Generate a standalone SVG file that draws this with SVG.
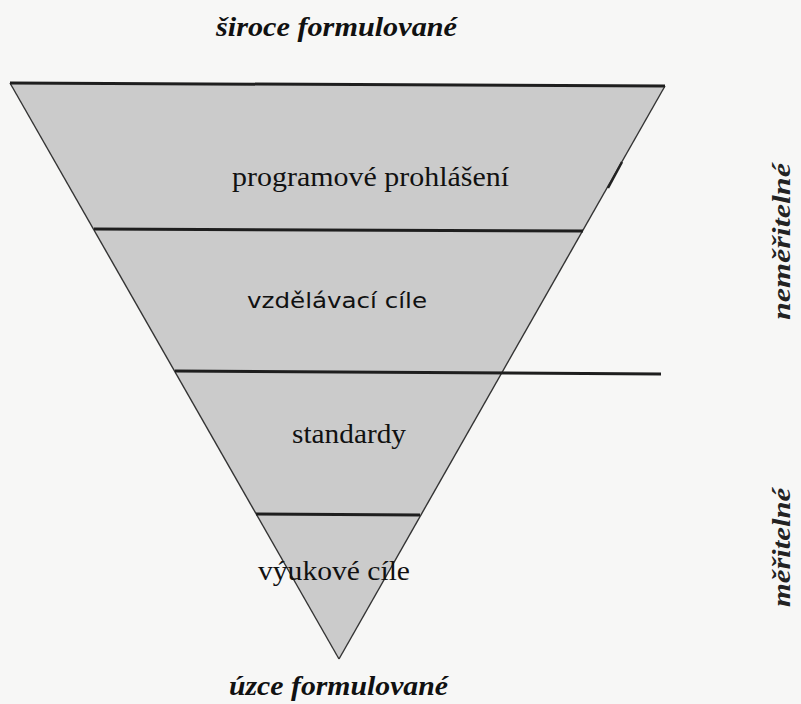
<svg xmlns="http://www.w3.org/2000/svg" width="801" height="704" viewBox="0 0 801 704">
  <style>
    .edge { stroke: #333; stroke-width: 1.4; fill: none; }
    .div { stroke: #1e1e1e; stroke-width: 3; fill: none; }
    .lbl { font-family: 'Liberation Serif', 'Times New Roman', Times, 'DejaVu Serif', serif; font-size: 27px; fill: #111; }
    .lbls { font-family: 'DejaVu Sans', 'Liberation Sans', sans-serif; font-size: 21px; fill: #111; }
    .ttl { font-family: 'Liberation Serif', 'Times New Roman', Times, 'DejaVu Serif', serif; font-size: 28px; font-weight: bold; font-style: italic; fill: #111; }
    .side { font-family: 'Liberation Serif', 'Times New Roman', Times, 'DejaVu Serif', serif; font-size: 25px; font-weight: bold; font-style: italic; fill: #222; }
  </style>
  <rect width="801" height="704" fill="#f7f7f6"/>
  <g id="funnel">
    <polygon points="10,83 665,86 339,659" fill="#cbcbcb"/>
    <line class="edge" x1="10" y1="83" x2="339" y2="659"/>
    <line class="edge" x1="665" y1="86" x2="339" y2="659"/>
    <line x1="608" y1="188" x2="622" y2="162" stroke="#222" stroke-width="2.5"/>
  </g>
  <g id="connectors">
    <line class="div" x1="10" y1="83" x2="665" y2="86"/>
    <line class="div" x1="94" y1="229" x2="583" y2="231"/>
    <line class="div" x1="175" y1="371" x2="661" y2="374"/>
    <line class="div" x1="256" y1="514" x2="420" y2="515" stroke-width="2.5"/>
  </g>
  <g id="programove-prohlaseni">
    <text class="lbl" x="232" y="186" textLength="277" lengthAdjust="spacingAndGlyphs">programové prohlášení</text>
  </g>
  <g id="vzdelavaci-cile">
    <text class="lbls" x="247" y="308" textLength="180" lengthAdjust="spacingAndGlyphs">vzdělávací cíle</text>
  </g>
  <g id="standardy">
    <text class="lbl" x="292" y="443" textLength="114" lengthAdjust="spacingAndGlyphs">standardy</text>
  </g>
  <g id="vyukove-cile">
    <text class="lbl" x="258" y="580" textLength="152" lengthAdjust="spacingAndGlyphs">výukové cíle</text>
  </g>
  <g id="siroce-formulovane">
    <text class="ttl" x="216" y="36" textLength="241" lengthAdjust="spacingAndGlyphs">široce formulované</text>
  </g>
  <g id="uzce-formulovane">
    <text class="ttl" x="229" y="695" textLength="219" lengthAdjust="spacingAndGlyphs">úzce formulované</text>
  </g>
  <g id="nemeritelne">
    <text class="side" transform="translate(790,320) rotate(-90)" textLength="157" lengthAdjust="spacingAndGlyphs">neměřitelné</text>
  </g>
  <g id="meritelne">
    <text class="side" transform="translate(790,607) rotate(-90)" textLength="119" lengthAdjust="spacingAndGlyphs">měřitelné</text>
  </g>
</svg>
